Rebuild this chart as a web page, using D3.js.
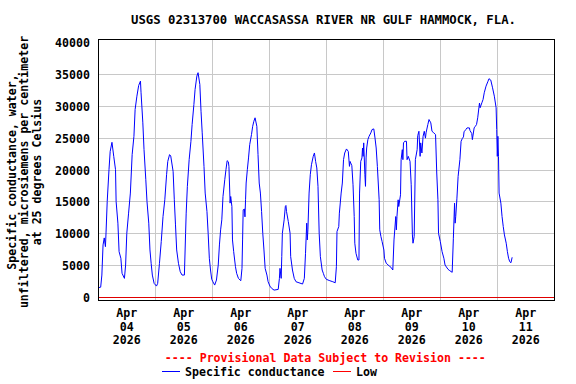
<!DOCTYPE html>
<html><head><meta charset="utf-8">
<script src="https://cdn.jsdelivr.net/npm/d3@7"></script>
<style>
body{margin:0;background:#fff}
svg{display:block}
text{font-family:"DejaVu Sans Mono",monospace;font-weight:bold;fill:#000}
</style>
</head><body>
<svg id="c" width="576" height="384"></svg>
<script>
const title = "USGS 02313700 WACCASASSA RIVER NR GULF HAMMOCK, FLA.";
const yLabelLines = ["Specific conductance, water,", "unfiltered, microsiemens per centimeter", "at 25 degrees Celsius"];
const yTicks = [0, 5000, 10000, 15000, 20000, 25000, 30000, 35000, 40000];
const xTickDays = ["04", "05", "06", "07", "08", "09", "10", "11"];
const xTickMonth = "Apr";
const xTickYear = "2026";
const lowValue = 0;
const provisional = "---- Provisional Data Subject to Revision ----";
const seriesNames = ["Specific conductance", "Low"];

const times = [
"04 00:00","04 01:00","04 01:30","04 02:00","04 02:30","04 03:00","04 03:15","04 03:45","04 04:30","04 05:00","04 05:45","04 06:30","04 07:15","04 07:30","04 08:15","04 08:45","04 09:30","04 10:00","04 11:00","04 11:30","04 12:00","04 12:45","04 13:30","04 14:15","04 15:00","04 15:30","04 16:15","04 17:00","04 17:45","04 18:00","04 18:45","04 19:15","04 20:00","04 20:30","04 21:15","04 21:45","04 22:15","04 22:45","04 23:30",
"05 00:30","05 01:00","05 01:45","05 02:30","05 03:15","05 04:00","05 04:45","05 05:15","05 06:00","05 06:30","05 07:30","05 08:00","05 08:30","05 09:00","05 09:45","05 10:30","05 11:15","05 12:15","05 12:45","05 13:00","05 13:30","05 14:15","05 15:00","05 15:30","05 16:15","05 16:45","05 17:30","05 18:00","05 18:45","05 19:15","05 19:45","05 20:30","05 21:00","05 21:45","05 22:15","05 22:45","05 23:15","05 23:45",
"06 00:15","06 01:00","06 01:45","06 02:30","06 03:00","06 03:30","06 04:00","06 04:30","06 05:15","06 05:45","06 06:15","06 06:45","06 07:00","06 07:30","06 07:45","06 08:15","06 08:30","06 09:00","06 09:45","06 10:15","06 11:00","06 12:00","06 12:30","06 12:45","06 13:00","06 13:30","06 13:45","06 14:00","06 14:15","06 14:45","06 15:15","06 15:45","06 16:30","06 17:00","06 17:30","06 18:00","06 18:45","06 19:15","06 19:45","06 20:15","06 20:45","06 21:15","06 21:45","06 22:15","06 23:00","06 23:30",
"07 00:15","07 01:00","07 02:00","07 03:45","07 04:15","07 04:30","07 05:00","07 05:15","07 05:30","07 06:15","07 06:45","07 07:00","07 07:15","07 08:00","07 08:45","07 09:00","07 09:45","07 10:30","07 11:15","07 12:30","07 14:00","07 14:45","07 15:15","07 15:45","07 16:00","07 16:15","07 16:45","07 17:15","07 17:45","07 18:30","07 19:00","07 19:30","07 20:00","07 20:30","07 21:00","07 21:30","07 22:15","07 22:45","07 23:15",
"08 00:00","08 01:30","08 02:45","08 03:45","08 04:15","08 04:30","08 05:15","08 05:30","08 06:15","08 06:45","08 07:15","08 07:45","08 08:30","08 09:15","08 09:45","08 10:00","08 10:45","08 11:15","08 11:45","08 12:00","08 12:30","08 13:15","08 13:45","08 14:00","08 14:30","08 15:00","08 15:15","08 15:30","08 15:45","08 16:15","08 16:30","08 16:45","08 17:00","08 17:30","08 18:00","08 18:45","08 19:15","08 20:00","08 20:30","08 21:00","08 21:30","08 22:15","08 22:30","08 23:00","08 23:30",
"09 00:15","09 00:30","09 01:15","09 02:30","09 03:15","09 04:00","09 04:30","09 05:15","09 05:30","09 05:45","09 06:15","09 06:30","09 07:15","09 07:30","09 08:00","09 08:15","09 08:30","09 09:00","09 09:45","09 10:00","09 10:30","09 11:15","09 11:45","09 12:15","09 12:30","09 13:00","09 13:30","09 14:15","09 14:30","09 15:00","09 15:30","09 15:45","09 16:15","09 16:45","09 17:15","09 17:45","09 18:00","09 18:45","09 19:15","09 20:00","09 20:30","09 21:15","09 22:00","09 22:30","09 23:00","09 23:15",
"10 00:00","10 00:45","10 01:30","10 02:00","10 03:15","10 04:00","10 05:00","10 05:30","10 06:00","10 06:15","10 06:30","10 07:00","10 07:30","10 08:15","10 08:45","10 09:15","10 09:45","10 10:00","10 10:45","10 11:15","10 12:15","10 12:30","10 13:15","10 13:30","10 14:15","10 14:45","10 15:15","10 15:45","10 16:15","10 16:30","10 16:45","10 17:30","10 18:00","10 18:30","10 19:15","10 20:00","10 20:30","10 21:15","10 22:00","10 22:45","10 23:30","10 23:45",
"11 00:00","11 00:15","11 00:30","11 00:45","11 01:30","11 02:00","11 02:30","11 03:00","11 03:45","11 04:15","11 04:45","11 05:15","11 05:45","11 06:15"
];
const values = [
1560,1650,3550,8270,9370,8000,10150,15080,20060,22930,24350,22150,20060,15080,11680,7220,6180,3820,3030,5120,10100,13250,16400,22420,25290,29490,31580,33260,33940,32110,27400,23200,18490,15080,11680,7480,5390,3550,2250,
1820,2250,5390,8790,12720,15340,19270,21360,22420,22200,19790,15340,11410,7480,5390,4070,3550,3550,10100,13250,17450,21630,24510,27130,30280,32640,34730,35260,33420,29220,25830,20580,16400,13500,10100,6180,4340,2900,
2500,1980,2770,5120,8270,10630,12200,15860,18490,20060,21470,21300,20580,14820,15860,14290,9050,7220,4860,3820,3030,2660,4600,9050,13770,13900,12670,15340,17970,20060,21900,23990,25560,26860,27650,28190,26860,22420,17970,16400,13500,10100,7480,4600,3550,2500,
1820,1460,1190,1300,3030,4600,3030,6430,10100,12200,14290,14450,13500,11930,10100,6430,4340,3030,2500,2340,2140,3030,6960,11680,9050,10630,16400,19270,20840,22150,22680,21360,20330,17450,10100,6430,4340,3820,3290,
2880,2660,2500,2340,4860,10360,11150,13250,16400,17970,21630,22680,23310,22930,20580,21360,20690,17700,12720,8540,6960,5910,5910,16400,21360,21900,23460,22150,24260,19270,17450,21900,23460,24770,25290,25830,26350,26450,25040,23460,20580,15340,10630,9580,8790,
7480,6180,5390,4970,4760,4340,9050,12720,10630,12720,15340,14290,16130,21630,23200,21630,24260,24510,24510,21630,22150,21360,17700,9840,8540,9580,21630,23200,25400,26080,22150,24260,22680,25290,26080,25000,25830,27130,27920,27400,26080,25830,25560,19540,15340,10100,
8790,7220,6180,5120,4450,4230,3980,9320,14820,11680,12720,15600,19010,21630,24510,24930,25200,26000,26350,26610,26610,26200,25720,24770,26610,26860,27130,28190,29760,30500,29760,30540,31060,32110,33150,33840,34320,34100,32890,31580,29760,26350,
22150,25290,22150,16400,14820,12720,11150,9840,8540,7220,6180,5640,5480,6330
];
const monthPrefix = "2026-04-";
const domainStart = "2026-04-04 00:00";
const domainEnd = "2026-04-12 00:00";

const parse = d3.timeParse("%Y-%m-%d %H:%M");
const data = times.map((t, i) => ({t: parse(monthPrefix + t), v: values[i]}));

const svg = d3.select("#c");
const L = 98.3, R = 554.3, T = 39.7, B = 300;
const x = d3.scaleTime().domain([parse(domainStart), parse(domainEnd)]).range([L, R]);
const y = d3.scaleLinear().domain([-360, 40430]).range([B, T]);
const px = v => Math.floor(v) + 0.5;

// grid
const grid = svg.append("g").attr("stroke", "#c8c8c8").attr("stroke-width", 1).attr("shape-rendering", "crispEdges");
const dayTicks = x.ticks(d3.timeDay.every(1)).filter(d => x(d) > L + 1 && x(d) < R - 1);
grid.selectAll("line.v").data(dayTicks).join("line")
  .attr("x1", d => px(x(d))).attr("x2", d => px(x(d))).attr("y1", 40).attr("y2", 300);
grid.selectAll("line.h").data(yTicks.filter(v => v > 0 && v < 40000)).join("line")
  .attr("x1", 99).attr("x2", 554).attr("y1", d => px(y(d))).attr("y2", d => px(y(d)));

// low line
svg.append("line").attr("x1", 99).attr("x2", 554).attr("y1", px(y(lowValue))).attr("y2", px(y(lowValue)))
  .attr("stroke", "#e00000").attr("stroke-width", 1).attr("shape-rendering", "crispEdges");

// series
svg.append("path").datum(data)
  .attr("d", d3.line().x(d => x(d.t)).y(d => y(d.v)))
  .attr("fill", "none").attr("stroke", "#0000ff").attr("stroke-width", 1);

// frame
svg.append("rect").attr("x", 98.5).attr("y", 39.5).attr("width", 456).attr("height", 261)
  .attr("fill", "none").attr("stroke", "#000").attr("stroke-width", 1).attr("shape-rendering", "crispEdges");

// y tick labels
svg.append("g").selectAll("text").data(yTicks).join("text")
  .attr("x", 90).attr("y", d => y(d) + 4.5).attr("text-anchor", "end")
  .style("font-size", "11.6px").text(d => d);

// x tick labels (centered at noon)
const xl = svg.append("g").style("font-size", "11.6px").attr("text-anchor", "middle");
xTickDays.forEach(dd => {
  const noon = parse(monthPrefix + dd + " 12:00");
  const cx = x(noon);
  xl.append("text").attr("x", cx).attr("y", 317).text(xTickMonth);
  xl.append("text").attr("x", cx).attr("y", 330.5).text(dd);
  xl.append("text").attr("x", cx).attr("y", 344).text(xTickYear);
});

// title
svg.append("text").attr("x", 323.5).attr("y", 24).attr("text-anchor", "middle")
  .style("font-size", "12.3px").text(title);

// y label
const ylx = [15.5, 28, 40.5];
yLabelLines.forEach((s, i) => {
  svg.append("text").attr("transform", `translate(${ylx[i]},172) rotate(-90)`)
    .attr("text-anchor", "middle").style("font-size", "11.6px").text(s);
});

// legend
svg.append("text").attr("x", 325.3).attr("y", 362).attr("text-anchor", "middle")
  .style("font-size", "11.6px").style("fill", "#ff0000").text(provisional);
svg.append("line").attr("x1", 162).attr("x2", 180).attr("y1", 371.5).attr("y2", 371.5).attr("stroke", "#0000ff");
svg.append("text").attr("x", 185).attr("y", 376).style("font-size", "11.6px").text(seriesNames[0]);
svg.append("line").attr("x1", 333).attr("x2", 351).attr("y1", 371.5).attr("y2", 371.5).attr("stroke", "#ff0000");
svg.append("text").attr("x", 356).attr("y", 376).style("font-size", "11.6px").text(seriesNames[1]);
</script>
</body></html>
